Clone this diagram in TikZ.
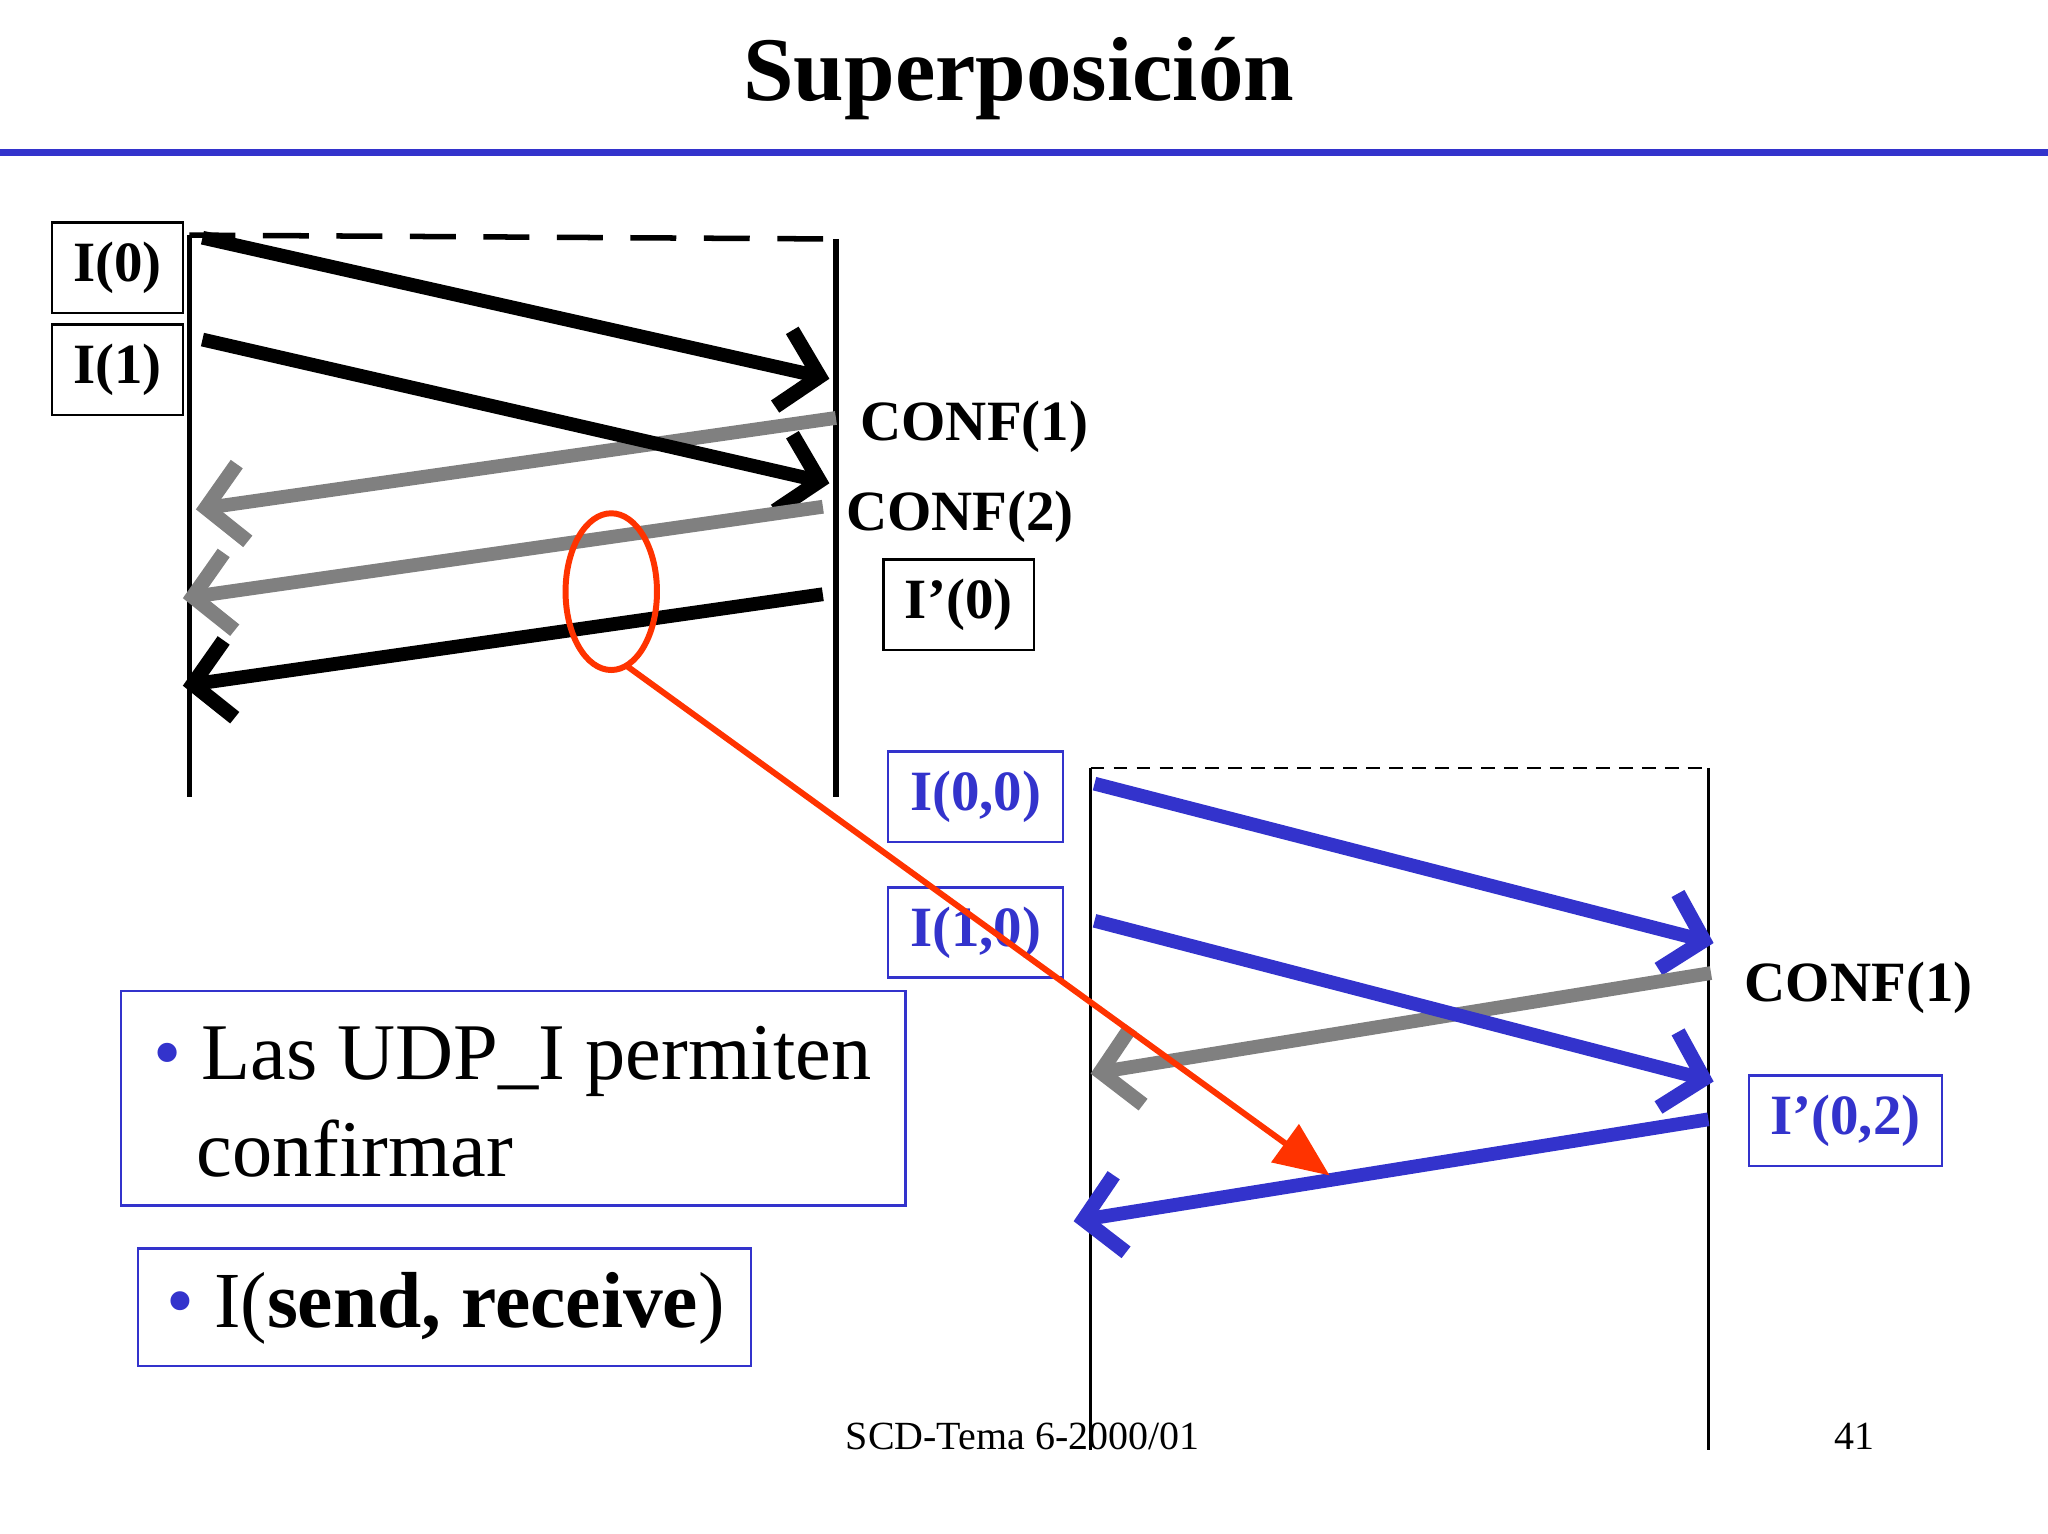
\documentclass[tikz,border=0pt]{standalone}
\usepackage{fontspec}
\setmainfont{Liberation Serif}
\usetikzlibrary{arrows.meta}
\definecolor{myblue}{RGB}{51,51,204}
\definecolor{mygrey}{RGB}{128,128,128}
\definecolor{myred}{RGB}{255,51,0}
\begin{document}
\begin{tikzpicture}[x=0.01cm,y=-0.01cm,
  msg/.style={line width=3pt,-{Straight Barb[length=8pt,width=17pt,line width=3.2pt]}},
  lbl/.style={draw,line width=0.5pt,font=\fontsize{12.4}{15}\selectfont\bfseries,minimum height=0.69cm,inner sep=0pt},
  txt/.style={font=\fontsize{12.4}{15}\selectfont\bfseries}]
\useasboundingbox (0,0) rectangle (1568,1174);
\node[font=\fontsize{19.8}{24}\selectfont\bfseries] (title) at (780,60) {Superposición};
\draw[myblue,line width=1.5pt] (0,117) coordinate (bl1) -- (1568,117) coordinate (bl2);
% left diagram
\coordinate (la1) at (145,180); \coordinate (la2) at (145,610);
\coordinate (lb1) at (640,183); \coordinate (lb2) at (640,610);
\draw[line width=1.2pt] (la1) -- (la2);
\draw[line width=1.2pt] (lb1) -- (lb2);
\draw[line width=1.2pt,dash pattern=on 10pt off 6pt] (la1) -- (lb1);
\node[lbl,minimum width=1.0cm] (i0) at (90,205) {I(0)};
\node[lbl,minimum width=1.0cm] (i1) at (90,283) {I(1)};
\coordinate (a1s) at (155,182); \coordinate (a1e) at (635,290);
\coordinate (a2s) at (155,260); \coordinate (a2e) at (635,370);
\coordinate (g1s) at (640,320); \coordinate (g1e) at (150,390);
\coordinate (g2s) at (630,388); \coordinate (g2e) at (140,458);
\coordinate (a3s) at (630,455); \coordinate (a3e) at (140,525);
\draw[msg] (a1s) -- (a1e);
\draw[msg,mygrey] (g1s) -- (g1e);
\draw[msg] (a2s) -- (a2e);
\draw[msg,mygrey] (g2s) -- (g2e);
\draw[msg] (a3s) -- (a3e);
\node[txt] (c1) at (746,327) {CONF(1)};
\node[txt] (c2) at (735,396) {CONF(2)};
\node[lbl,minimum width=1.15cm] (ip0) at (734,463) {I’(0)};
% right diagram
\coordinate (ra1) at (835,588); \coordinate (ra2) at (835,1110);
\coordinate (rb1) at (1308,588); \coordinate (rb2) at (1308,1110);
\draw[line width=0.5pt] (ra1) -- (ra2);
\draw[line width=0.5pt] (rb1) -- (rb2);
\draw[line width=0.5pt,dash pattern=on 3pt off 2pt] (ra1) -- (rb1);
\node[lbl,myblue,minimum width=1.34cm] (i00) at (747,610) {I(0,0)};
\node[lbl,myblue,minimum width=1.34cm] (i10) at (747,714) {I(1,0)};
\coordinate (b1s) at (838,600); \coordinate (b1e) at (1312,722);
\coordinate (b2s) at (838,705); \coordinate (b2e) at (1312,828);
\coordinate (g3s) at (1310,745); \coordinate (g3e) at (835,822);
\coordinate (b3s) at (1308,857); \coordinate (b3e) at (822,935);
\draw[msg,myblue] (b1s) -- (b1e);
\draw[msg,mygrey] (g3s) -- (g3e);
\draw[msg,myblue] (b2s) -- (b2e);
\draw[msg,myblue] (b3s) -- (b3e);
\node[txt] (c3) at (1423,756) {CONF(1)};
\node[lbl,myblue,minimum width=1.48cm] (ip02) at (1413,858) {I’(0,2)};
% red
\draw[myred,line width=1.3pt] (468,453) ellipse [x radius=35, y radius=60];
\coordinate (rs) at (480,510); \coordinate (re) at (1018,900);
\draw[myred,line width=1.3pt,-{Triangle[length=12pt,width=10pt]}] (rs) -- (re);
% text boxes
\node[draw=myblue,line width=0.5pt,minimum width=6.0cm,minimum height=1.64cm,anchor=north west,inner sep=0pt] (box1) at (92,758) {};
\node[font=\fontsize{17.5}{21.3}\selectfont,anchor=north west,align=left] (t1) at (105,773) {{\color{myblue}\textbullet}\ Las UDP\_I permiten\\\hspace*{0.33cm}confirmar};
\node[draw=myblue,line width=0.5pt,minimum width=4.69cm,minimum height=0.9cm,anchor=north west,inner sep=0pt] (box2) at (105,955) {};
\node[font=\fontsize{17.3}{21}\selectfont,anchor=west] (t2) at (115,1002) {{\color{myblue}\textbullet}\ I(\textbf{send, receive})};
\node[font=\fontsize{8.7}{10}\selectfont] (f1) at (783,1100) {SCD-Tema 6-2000/01};
\node[font=\fontsize{8.7}{10}\selectfont] (f2) at (1420,1100) {41};
\end{tikzpicture}
\end{document}
